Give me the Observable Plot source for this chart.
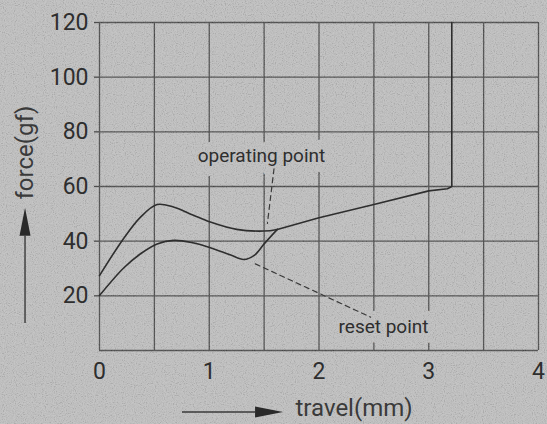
<!DOCTYPE html>
<html><head><meta charset="utf-8">
<script src="https://cdn.jsdelivr.net/npm/d3@7"></script>
<script src="https://cdn.jsdelivr.net/npm/@observablehq/plot@0.6"></script>
<style>
html,body{margin:0;padding:0;background:#bababa;}
</style></head><body><div id="chart"></div>
<script>
// operating (press) curve
const opX = [0, 0.22, 0.374, 0.525, 0.68, 0.85, 1.01, 1.25, 1.5, 1.62];
const opY = [27.4, 41, 48.8, 53.4, 52.4, 49.6, 47.0, 44.3, 43.7, 44.3];
// reset (return) curve
const rsX = [0, 0.22, 0.374, 0.525, 0.68, 0.85, 1.01, 1.19, 1.315, 1.41, 1.5, 1.62];
const rsY = [20.1, 30.2, 35.4, 39, 40.3, 39.4, 37.6, 35, 33.3, 34.8, 39, 44.3];
// common straight part
const cmX = [1.62, 2.0, 2.5, 3.0, 3.17, 3.21, 3.21];
const cmY = [44.3, 48.6, 53.4, 58.4, 59.2, 60, 120];
// grid & ticks
const xGrid = [0, 0.5, 1, 1.5, 2, 2.5, 3, 3.5, 4];
const yGrid = [0, 20, 40, 60, 80, 100, 120];
const xTicks = [0, 1, 2, 3, 4];
const yTicks = [20, 40, 60, 80, 100, 120];
// annotations
const labels = ["operating point", "reset point"];
const labelX = [1.476, 2.588];
const labelY = [71.3, 8.8];
const leadOpX = [1.59, 1.53], leadOpY = [66.5, 46.5];
const leadRsX = [1.42, 2.47], leadRsY = [31.7, 12.2];
// axis titles and arrows
const xTitle = "travel(mm)", yTitle = "force(gf)";
const xArrowX = [0.756, 1.677], xArrowY = [-22.7, -22.7];
const yArrowX = [-0.674, -0.674], yArrowY = [9.9, 52];

const BG = "#bfbfbf", INK = "#2e2e2e", GRID = "#4d4d4d";
const pts = (xs, ys) => xs.map((x, i) => ({x, y: ys[i]}));
const labelOpts = {x: (d, i) => labelX[i], y: (d, i) => labelY[i], text: d => d, fontSize: 19};

const chart = Plot.plot({
  width: 547, height: 424,
  marginLeft: 99, marginRight: 9, marginTop: 22, marginBottom: 74,
  style: {background: BG, fontFamily: "Roboto, sans-serif", color: INK, overflow: "visible"},
  x: {domain: [0, 4]},
  y: {domain: [0, 120]},
  marks: [
    Plot.ruleX(xGrid, {stroke: GRID, strokeWidth: 1.3}),
    Plot.ruleY(yGrid, {stroke: GRID, strokeWidth: 1.3}),
    Plot.text(labels, {...labelOpts, fill: BG, stroke: BG, strokeWidth: 20, strokeLinejoin: "round"}),
    Plot.axisX(xTicks, {tickSize: 0, tickPadding: 12, fontSize: 23, label: null, fill: INK}),
    Plot.axisY(yTicks, {tickSize: 5, tickPadding: 6, fontSize: 23, label: null, fill: INK, stroke: GRID, strokeWidth: 1.3}),
    Plot.text(labels, {...labelOpts, fill: INK}),
    Plot.line(pts(leadOpX, leadOpY), {x: "x", y: "y", stroke: "#3a3a3a", strokeWidth: 1.2, strokeDasharray: "5,4"}),
    Plot.line(pts(leadRsX, leadRsY), {x: "x", y: "y", stroke: "#3a3a3a", strokeWidth: 1.2, strokeDasharray: "5,4"}),
    Plot.line(pts(opX, opY), {x: "x", y: "y", curve: "catmull-rom", stroke: INK, strokeWidth: 1.6}),
    Plot.line(pts(rsX, rsY), {x: "x", y: "y", curve: "catmull-rom", stroke: INK, strokeWidth: 1.6}),
    Plot.line(pts(cmX, cmY), {x: "x", y: "y", stroke: INK, strokeWidth: 1.6}),
    Plot.text([yTitle], {x: yArrowX[0], y: 72.4, text: d => d, rotate: -90, fontSize: 24, fill: "#3a3a3a", clip: false, letterSpacing: 1.8}),
    Plot.text([xTitle], {x: 1.786, y: -21.2, text: d => d, textAnchor: "start", fontSize: 24, fill: "#3a3a3a", clip: false, letterSpacing: 1.6}),
  ]
});
document.getElementById("chart").appendChild(chart);

const svg = d3.select(chart);
// subtle paper texture, laid over the background, grid and label halos
const defs = svg.append("defs");
const f = defs.append("filter").attr("id", "tex").attr("x", 0).attr("y", 0).attr("width", 547).attr("height", 424)
  .attr("filterUnits", "userSpaceOnUse");
f.append("feTurbulence").attr("type", "fractalNoise").attr("baseFrequency", 0.9).attr("numOctaves", 2).attr("seed", 4).attr("result", "n");
f.append("feColorMatrix").attr("in", "n").attr("type", "matrix")
  .attr("values", "2.2 0 0 0 -0.6  2.2 0 0 0 -0.6  2.2 0 0 0 -0.6  0 0 0 0 0.1");
const tex = document.createElementNS("http://www.w3.org/2000/svg", "rect");
tex.setAttribute("width", 547); tex.setAttribute("height", 424); tex.setAttribute("filter", "url(#tex)");
const groups = chart.querySelectorAll(":scope > g");
const haloG = groups[2];
chart.insertBefore(tex, haloG.nextSibling);

// arrows drawn through the plot's scales
const sx = chart.scale("x"), sy = chart.scale("y");
function arrow(xs, ys) {
  const x1 = sx.apply(xs[0]), y1 = sy.apply(ys[0]);
  const x2 = sx.apply(xs[1]), y2 = sy.apply(ys[1]);
  const ang = Math.atan2(y2 - y1, x2 - x1);
  const L = 28, W = 5.5;
  const bx = x2 - L * Math.cos(ang), by = y2 - L * Math.sin(ang);
  const nx = -Math.sin(ang) * W, ny = Math.cos(ang) * W;
  svg.append("line").attr("x1", x1).attr("y1", y1).attr("x2", bx).attr("y2", by)
    .attr("stroke", "#3a3a3a").attr("stroke-width", 1.4);
  svg.append("path").attr("d", `M${x2},${y2}L${bx + nx},${by + ny}L${bx - nx},${by - ny}Z`).attr("fill", "#2a2a2a");
}
arrow(xArrowX, xArrowY);
arrow(yArrowX, yArrowY);
</script></body></html>
